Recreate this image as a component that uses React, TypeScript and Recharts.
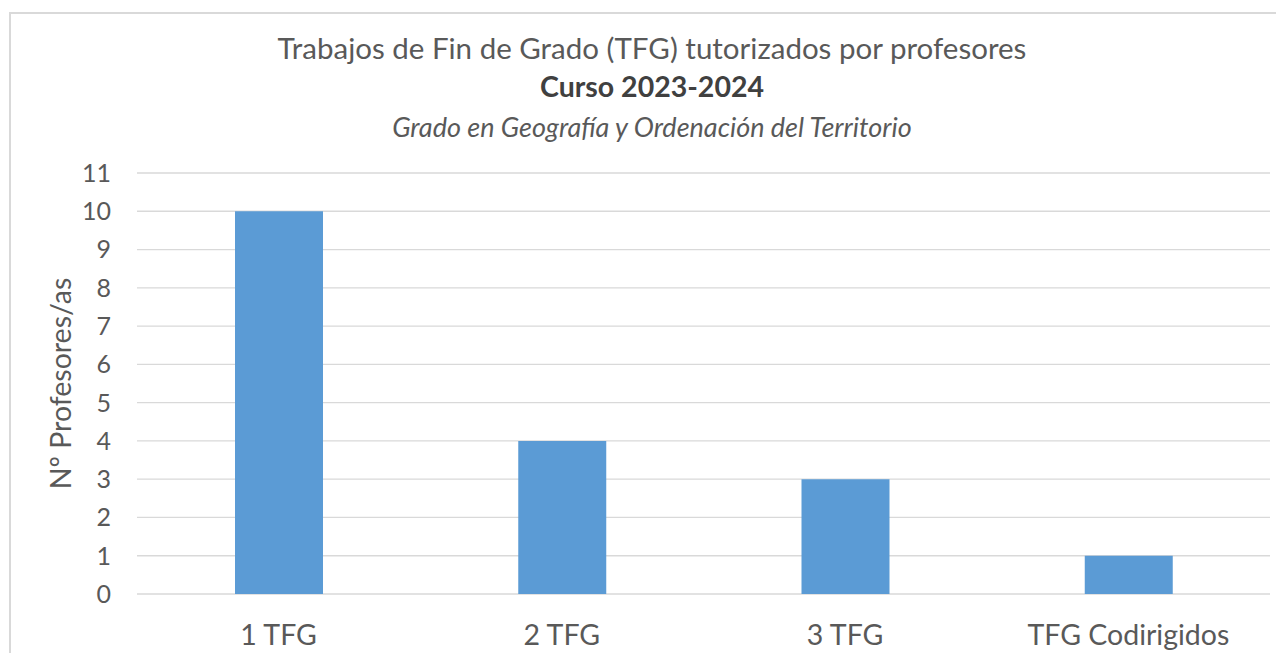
// Gráfico de barras: TFG tutorizados por profesores, curso 2023-2024
import React from 'react';
import { BarChart, Bar, XAxis, YAxis, CartesianGrid } from 'recharts';

const categorias = ['1 TFG', '2 TFG', '3 TFG', 'TFG Codirigidos'];
const profesores = [10, 4, 3, 1];
const ticksY = [0, 1, 2, 3, 4, 5, 6, 7, 8, 9, 10, 11];

const titulo = 'Trabajos de Fin de Grado (TFG) tutorizados por profesores';
const curso = 'Curso 2023-2024';
const grado = 'Grado en Geografía y Ordenación del Territorio';
const ejeY = 'Nº Profesores/as';

const FONT = 'Lato, "Open Sans", sans-serif';
const GRIS = '#595959';

export default function App() {
  const data = categorias.map((c, i) => ({ categoria: c, valor: profesores[i] }));

  return (
    <div style={{ position: 'relative', margin: -8, width: 1284, height: 661, overflow: 'hidden', background: '#fff' }}>
      <div
        style={{
          position: 'absolute', left: 9, top: 12, width: 1320, height: 700,
          borderTop: '2px solid #d9d9d9', borderLeft: '2px solid #d9d9d9',
        }}
      />
      <div style={{ position: 'absolute', left: 0, top: 0 }}>
        <BarChart width={1284} height={661} data={data} margin={{ top: 173, right: 14, bottom: 0, left: 0 }}>
          <CartesianGrid vertical={false} stroke="#d9d9d9" strokeWidth={1.3} />
          <XAxis
            dataKey="categoria"
            axisLine={false}
            tickLine={false}
            tickSize={0}
            tickMargin={31}
            height={67}
            tick={{ fill: GRIS, fontSize: 28.5, fontFamily: FONT }}
          />
          <YAxis
            domain={[0, 11]}
            ticks={ticksY}
            interval={0}
            axisLine={false}
            tickLine={false}
            tickSize={0}
            tickMargin={26}
            width={137}
            tick={{ fill: GRIS, fontSize: 25, fontFamily: FONT }}
            label={{ value: ejeY, angle: -90, position: 'center', dx: -8, fill: GRIS, fontSize: 28.5, fontFamily: FONT }}
          />
          <Bar dataKey="valor" fill="#5b9bd5" barSize={88} isAnimationActive={false} />
        </BarChart>
      </div>
      <svg style={{ position: 'absolute', left: 0, top: 0 }} width={1284} height={661}>
        <text x={652} y={59} textAnchor="middle" fill={GRIS} fontSize={29.5} fontFamily={FONT}>{titulo}</text>
        <text x={652} y={97} textAnchor="middle" fill="#404040" fontSize={28.5} fontWeight="bold" fontFamily={FONT}>{curso}</text>
        <text x={652} y={137} textAnchor="middle" fill={GRIS} fontSize={27} fontStyle="italic" fontFamily={FONT}>{grado}</text>
      </svg>
    </div>
  );
}
